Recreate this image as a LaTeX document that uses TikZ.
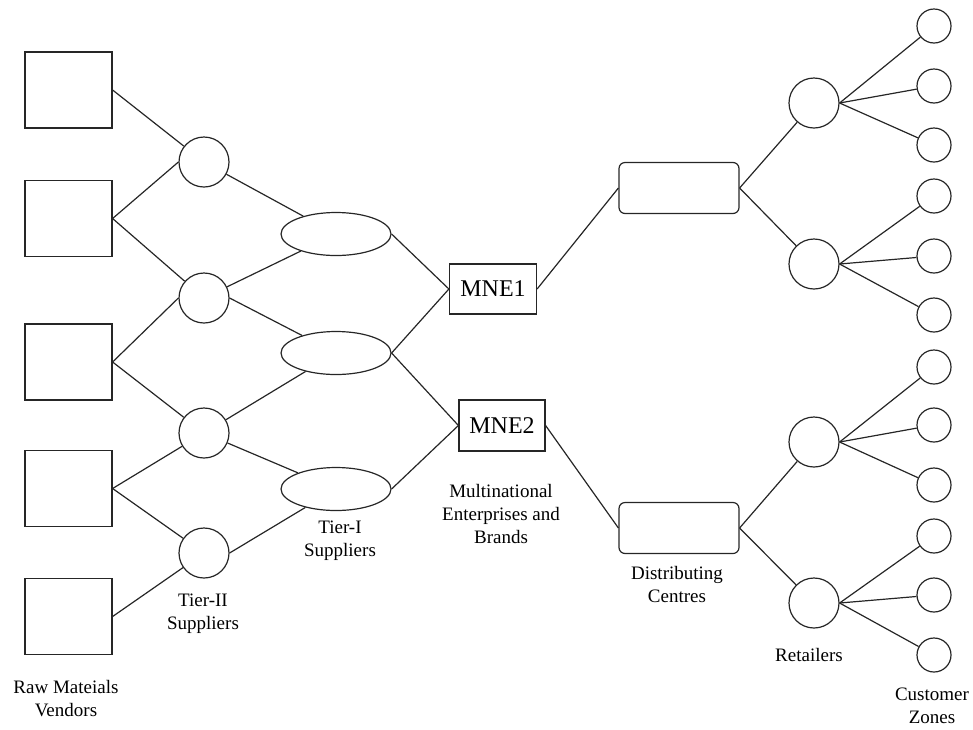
\documentclass[tikz,border=0pt]{standalone}
\usepackage{fontspec}
\setmainfont{Liberation Serif}
\usetikzlibrary{shapes.geometric}
\begin{document}
\begin{tikzpicture}[x=1pt,y=-1pt,line width=1.2pt,
  conn/.style={draw=black!85,line width=1.2pt},
  vendor/.style={draw=black!85,rectangle,minimum width=87pt,minimum height=76pt,inner sep=0pt},
  tiertwo/.style={draw=black!85,circle,minimum size=50pt,inner sep=0pt},
  tierone/.style={draw=black!85,ellipse,minimum width=110pt,minimum height=43pt,inner sep=0pt},
  mne/.style={draw=black!85,rectangle,minimum width=87pt,minimum height=50pt,inner sep=0pt,font=\fontsize{24}{28}\selectfont},
  dc/.style={draw=black!85,rectangle,rounded corners=6pt,minimum width=120pt,minimum height=51pt,inner sep=0pt},
  retail/.style={draw=black!85,circle,minimum size=50pt,inner sep=0pt},
  cust/.style={draw=black!85,circle,minimum size=34pt,inner sep=0pt},
  lbl/.style={align=center,inner sep=0pt,font=\fontsize{19}{23}\selectfont}]
\useasboundingbox (0,0) rectangle (973,729);
% vendors
\node[vendor] (v1) at (68.5,90) {};
\node[vendor] (v2) at (68.5,218.5) {};
\node[vendor] (v3) at (68.5,362) {};
\node[vendor] (v4) at (68.5,488.5) {};
\node[vendor] (v5) at (68.5,616.5) {};
% tier II
\node[tiertwo] (t1) at (204,162) {};
\node[tiertwo] (t2) at (204,298) {};
\node[tiertwo] (t3) at (204,433) {};
\node[tiertwo] (t4) at (204,553) {};
% tier I
\node[tierone] (e1) at (336,234) {};
\node[tierone] (e2) at (336,353) {};
\node[tierone] (e3) at (336,489) {};
% MNE
\node[mne] (m1) at (493,289) {MNE1};
\node[mne,minimum width=86pt,minimum height=51pt] (m2) at (502,425.5) {MNE2};
% DC
\node[dc] (d1) at (679,188) {};
\node[dc] (d2) at (679,528) {};
% retailers
\node[retail] (r1) at (814,103) {};
\node[retail] (r2) at (814,264) {};
\node[retail] (r3) at (814,442) {};
\node[retail] (r4) at (814,603) {};
% customers
\foreach \i/\y in {1/26,2/86,3/145,4/196,5/256,6/315,7/367,8/425,9/485,10/536,11/595,12/655}
  \node[cust] (c\i) at (934,\y) {};
% connectors
\draw[conn] (v1.east) -- (t1);
\draw[conn] (v2.east) -- (t1.west);
\draw[conn] (v2.east) -- (t2);
\draw[conn] (v3.east) -- (t2.west);
\draw[conn] (v3.east) -- (t3);
\draw[conn] (v4.east) -- (t3);
\draw[conn] (v4.east) -- (t4);
\draw[conn] (v5.east) -- (t4);
\draw[conn] (t1) -- (e1);
\draw[conn] (t2) -- (e1);
\draw[conn] (t2.east) -- (e2);
\draw[conn] (t3) -- (e2);
\draw[conn] (t3) -- (e3);
\draw[conn] (t4.east) -- (e3);
\draw[conn] (e1.east) -- (m1.west);
\draw[conn] (e2.east) -- (m1.west);
\draw[conn] (e2.east) -- (m2.west);
\draw[conn] (e3.east) -- (m2.west);
\draw[conn] (m1.east) -- (d1.west);
\draw[conn] (m2.east) -- (d2.west);
\draw[conn] (d1.east) -- (r1);
\draw[conn] (d1.east) -- (r2);
\draw[conn] (d2.east) -- (r3);
\draw[conn] (d2.east) -- (r4);
\draw[conn] (r1.east) -- (c1); \draw[conn] (r1.east) -- (c2); \draw[conn] (r1.east) -- (c3);
\draw[conn] (r2.east) -- (c4); \draw[conn] (r2.east) -- (c5); \draw[conn] (r2.east) -- (c6);
\draw[conn] (r3.east) -- (c7); \draw[conn] (r3.east) -- (c8); \draw[conn] (r3.east) -- (c9);
\draw[conn] (r4.east) -- (c10); \draw[conn] (r4.east) -- (c11); \draw[conn] (r4.east) -- (c12);
% labels
\node[lbl] (lv) at (66,698.5) {Raw Mateials\\Vendors};
\node[lbl] (lt2) at (203,614) {Tier-II\\Suppliers};
\node[lbl] (lt1) at (340,541) {Tier-I\\Suppliers};
\node[lbl] (lm) at (501,514) {Multinational\\Enterprises and\\Brands};
\node[lbl] (ld) at (677,584) {Distributing\\Centres};
\node[lbl] (lr) at (809,655) {Retailers};
\node[lbl] (lc) at (932,706) {Customer\\Zones};
\end{tikzpicture}
\end{document}
